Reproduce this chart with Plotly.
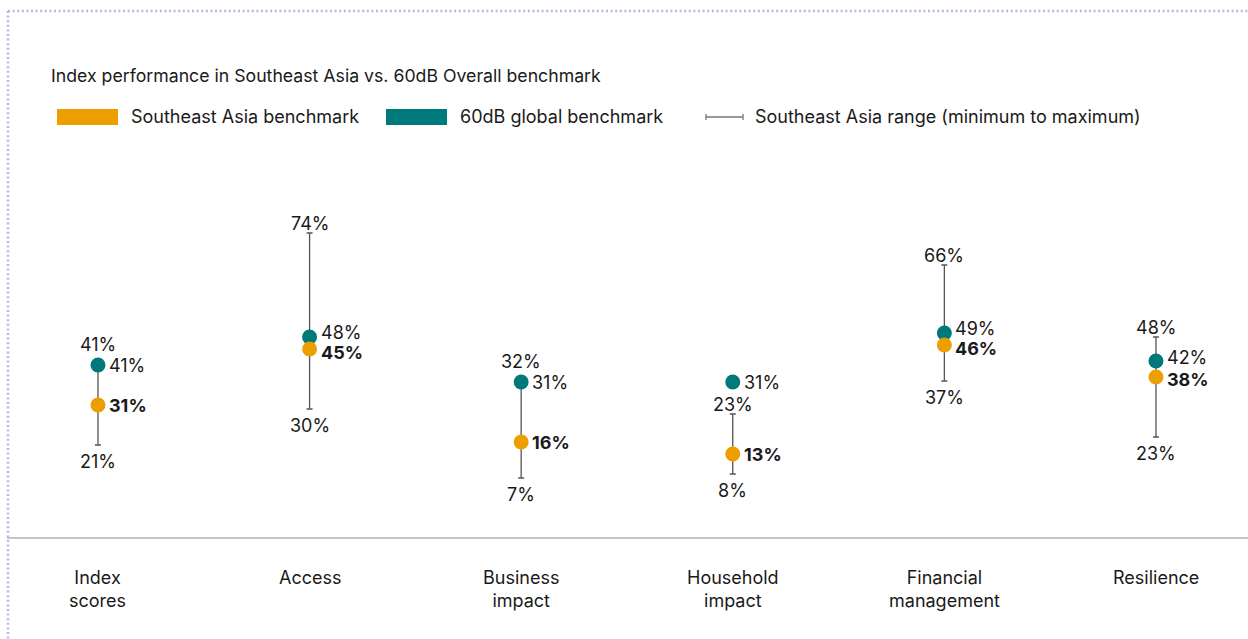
import plotly.graph_objects as go

# ---- data ----
categories = ["Index<br>scores", "Access", "Business<br>impact", "Household<br>impact",
              "Financial<br>management", "Resilience"]
sea_benchmark = [31, 45, 16, 13, 46, 38]
global_benchmark = [41, 48, 31, 31, 49, 42]
range_min = [21, 30, 7, 8, 37, 23]
range_max = [41, 74, 32, 23, 66, 48]

title_text = "Index performance in Southeast Asia vs. 60dB Overall benchmark"
legend_labels = ["Southeast Asia benchmark", "60dB global benchmark",
                 "Southeast Asia range (minimum to maximum)"]

# ---- style ----
W, H = 1248, 639
ORANGE = "#EE9F00"
TEAL = "#00797A"
TEXT = "#1a1a1a"
WHISKER = "#555555"
FONT = "Inter, 'Open Sans', sans-serif"
FS = 18

# groups drawn on the main scale and on a slightly raised scale (as in the original graphic)
raised = {"Business<br>impact", "Household<br>impact"}

fig = go.Figure()

def px_x(p):
    return p / W

def px_y(p):
    return 1 - p / H

annotations = []

for axis in ["y", "y2"]:
    idx = [i for i, c in enumerate(categories) if (c in raised) == (axis == "y2")]
    xs = idx
    mins = [range_min[i] for i in idx]
    spans = [range_max[i] - range_min[i] for i in idx]
    # range whiskers
    fig.add_trace(go.Scatter(
        x=xs, y=mins, mode="markers", yaxis=axis,
        marker=dict(size=1, color="rgba(0,0,0,0)"),
        error_y=dict(type="data", symmetric=False, array=spans,
                     arrayminus=[0] * len(idx), width=3, thickness=1.3, color=WHISKER),
        hoverinfo="skip", showlegend=False))
    # global benchmark dots
    fig.add_trace(go.Scatter(
        x=xs, y=[global_benchmark[i] for i in idx], mode="markers", yaxis=axis,
        marker=dict(size=15, color=TEAL, line=dict(width=0)), showlegend=False))
    # SEA benchmark dots
    fig.add_trace(go.Scatter(
        x=xs, y=[sea_benchmark[i] for i in idx], mode="markers", yaxis=axis,
        marker=dict(size=15, color=ORANGE, line=dict(width=0)), showlegend=False))

    for i in idx:
        yref = axis
        diff = abs(global_benchmark[i] - sea_benchmark[i])
        up, down = (5, -3) if diff <= 3 else ((4, -2) if diff <= 4 else (0, 0))
        annotations.append(dict(x=i, y=global_benchmark[i], xref="x", yref=yref,
                                text=f"{global_benchmark[i]}%", showarrow=False,
                                xanchor="left", yanchor="middle", xshift=10,
                                yshift=up, borderpad=0,
                                font=dict(family=FONT, size=FS, color=TEXT)))
        annotations.append(dict(x=i, y=sea_benchmark[i], xref="x", yref=yref,
                                text=f"<b>{sea_benchmark[i]}%</b>", showarrow=False,
                                xanchor="left", yanchor="middle", xshift=10,
                                yshift=down, borderpad=0,
                                font=dict(family=FONT, size=FS, color=TEXT)))
        if abs(global_benchmark[i] - range_max[i]) <= 2:
            ytop, shift = global_benchmark[i], 21
        else:
            ytop, shift = range_max[i], 10
        annotations.append(dict(x=i, y=ytop, xref="x", yref=yref,
                                text=f"{range_max[i]}%", showarrow=False,
                                xanchor="center", yanchor="middle", yshift=shift,
                                font=dict(family=FONT, size=FS, color=TEXT)))
        annotations.append(dict(x=i, y=range_min[i], xref="x", yref=yref,
                                text=f"{range_min[i]}%", showarrow=False,
                                xanchor="center", yanchor="middle", yshift=-16,
                                font=dict(family=FONT, size=FS, color=TEXT)))

# category labels
for i, c in enumerate(categories):
    annotations.append(dict(x=i, y=px_y(565), xref="x", yref="paper", text=c,
                            showarrow=False, xanchor="center", yanchor="top",
                            font=dict(family=FONT, size=FS, color=TEXT)))

# title
annotations.append(dict(x=px_x(49), y=px_y(75), xref="paper", yref="paper",
                        text=title_text, showarrow=False, xanchor="left", yanchor="middle",
                        font=dict(family=FONT, size=17.7, color=TEXT)))

# legend texts
for xp, t in zip([129, 458, 753], legend_labels):
    annotations.append(dict(x=px_x(xp), y=px_y(117), xref="paper", yref="paper",
                            text=t, showarrow=False, xanchor="left", yanchor="middle",
                            font=dict(family=FONT, size=FS, color=TEXT)))

shapes = [
    # dotted frame
    dict(type="line", xref="paper", yref="paper", x0=px_x(8), x1=1, y0=px_y(11), y1=px_y(11),
         line=dict(color="#b3b8de", width=2.5, dash="2px,2.6px")),
    dict(type="line", xref="paper", yref="paper", x0=px_x(8), x1=px_x(8), y0=px_y(11), y1=0,
         line=dict(color="#b3b8de", width=2.5, dash="2px,2.6px")),
    # baseline
    dict(type="line", xref="paper", yref="y", x0=px_x(7), x1=1, y0=-2.25, y1=-2.25,
         line=dict(color="#c8c4c1", width=2)),
    # legend keys
    dict(type="rect", xref="paper", yref="paper", x0=px_x(57), x1=px_x(118),
         y0=px_y(125), y1=px_y(109), fillcolor=ORANGE, line=dict(width=0)),
    dict(type="rect", xref="paper", yref="paper", x0=px_x(386), x1=px_x(447),
         y0=px_y(125), y1=px_y(109), fillcolor=TEAL, line=dict(width=0)),
    dict(type="line", xref="paper", yref="paper", x0=px_x(706), x1=px_x(743),
         y0=px_y(117), y1=px_y(117), line=dict(color="#777777", width=1.3)),
    dict(type="line", xref="paper", yref="paper", x0=px_x(706), x1=px_x(706),
         y0=px_y(114), y1=px_y(120), line=dict(color="#777777", width=1.3)),
    dict(type="line", xref="paper", yref="paper", x0=px_x(743), x1=px_x(743),
         y0=px_y(114), y1=px_y(120), line=dict(color="#777777", width=1.3)),
]

fig.update_layout(
    width=W, height=H, autosize=False,
    margin=dict(l=0, r=0, t=0, b=0, pad=0),
    paper_bgcolor="white", plot_bgcolor="white",
    xaxis=dict(range=[-0.463, 5.435], visible=False, fixedrange=True),
    yaxis=dict(range=[-27.5, 132.25], visible=False, fixedrange=True),
    yaxis2=dict(range=[-33.25, 126.5], visible=False, overlaying="y", fixedrange=True),
    showlegend=False,
    annotations=annotations,
    shapes=shapes,
    font=dict(family=FONT, color=TEXT),
)

fig.write_html("out.html", config={"displayModeBar": False},
               post_script="document.body.style.margin='0';document.body.style.overflow='hidden';")
